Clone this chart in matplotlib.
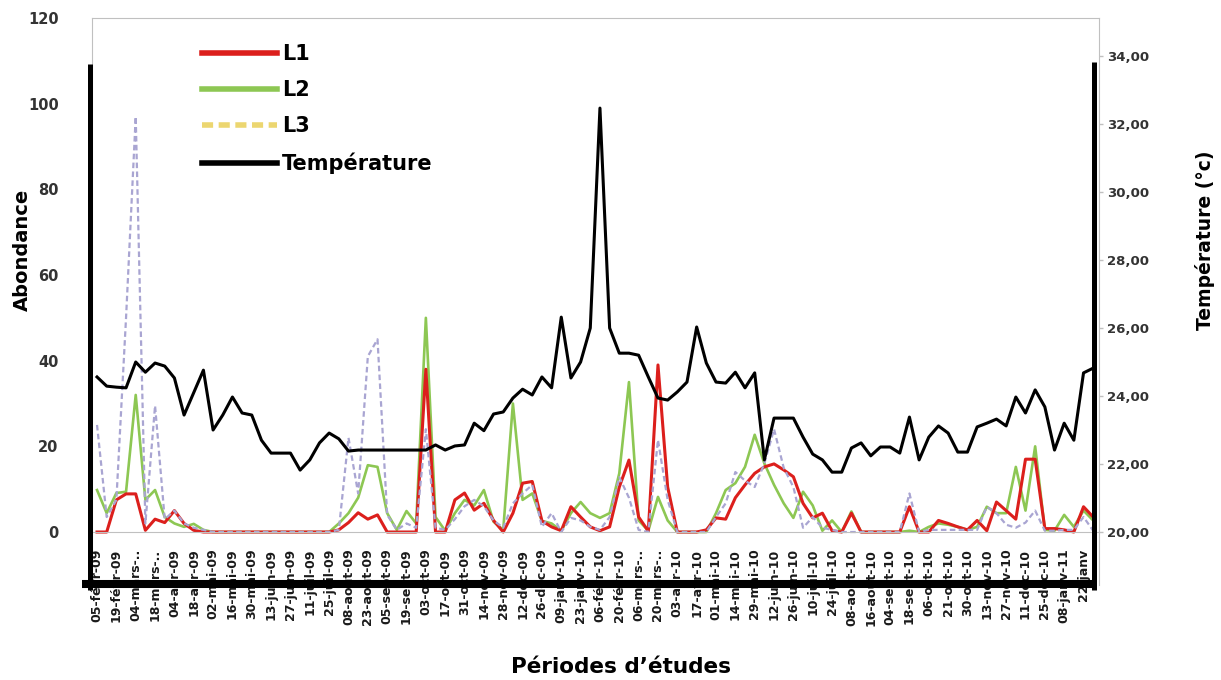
import matplotlib.pyplot as plt
from matplotlib.lines import Line2D
from matplotlib.ticker import FuncFormatter

plt.rcParams['font.family'] = 'DejaVu Sans'
plt.rcParams['font.weight'] = 'bold'

# dates de prélèvement (une étiquette sur deux)
dates = ["05-févr-09", "19-févr-09", "04-mars-..", "18-mars-..", "04-avr-09", "18-avr-09",
         "02-mai-09", "16-mai-09", "30-mai-09", "13-juin-09", "27-juin-09", "11-juil-09",
         "25-juil-09", "08-août-09", "23-août-09", "05-sept-09", "19-sept-09", "03-oct-09",
         "17-oct-09", "31-oct-09", "14-nov-09", "28-nov-09", "12-déc-09", "26-déc-09",
         "09-janv-10", "23-janv-10", "06-févr-10", "20-févr-10", "06-mars-..", "20-mars-..",
         "03-avr-10", "17-avr-10", "01-mai-10", "14-mai-10", "29-mai-10", "12-juin-10",
         "26-juin-10", "10-juil-10", "24-juil-10", "08-août-10", "16-août-10", "04-sept-10",
         "18-sept-10", "06-oct-10", "21-oct-10", "30-oct-10", "13-nov-10", "27-nov-10",
         "11-déc-10", "25-déc-10", "08-janv-11", "22-janv"]

temperature = [24.56, 24.29, 24.26, 24.24, 25.0, 24.7, 24.97, 24.88, 24.53, 23.44,
               24.1, 24.76, 23.0, 23.44, 23.97, 23.5, 23.44, 22.7, 22.32, 22.32,
               22.32, 21.82, 22.12, 22.62, 22.91, 22.74, 22.38, 22.41, 22.41, 22.41,
               22.41, 22.41, 22.41, 22.41, 22.41, 22.56, 22.41, 22.53, 22.56, 23.2,
               22.98, 23.47, 23.53, 23.94, 24.2, 24.03, 24.56, 24.24, 26.32, 24.53,
               25.0, 26.0, 32.47, 26.0, 25.26, 25.26, 25.2, 24.56, 23.94, 23.88,
               24.12, 24.41, 26.03, 24.97, 24.41, 24.38, 24.7, 24.24, 24.68, 22.12,
               23.35, 23.35, 23.35, 22.79, 22.29, 22.12, 21.76, 21.76, 22.47, 22.62,
               22.24, 22.5, 22.5, 22.32, 23.38, 22.12, 22.79, 23.12, 22.91, 22.35,
               22.35, 23.09, 23.2, 23.32, 23.12, 23.97, 23.5, 24.18, 23.68, 22.41,
               23.2, 22.7, 24.68, 24.82]

l1 = [0, 0, 7.5, 8.9, 8.9, 0.4, 3.0, 2.2, 5.0, 2.0,
      0.4, 0, 0, 0, 0, 0, 0, 0, 0, 0,
      0, 0, 0, 0, 0, 0.5, 2.2, 4.5, 3.0, 4.0,
      0, 0, 0, 0, 38, 0, 0, 7.5, 9.1, 5.1,
      6.7, 2.7, 0, 4.4, 11.4, 11.8, 2.6, 1.2, 0.3, 5.9,
      3.5, 1.2, 0.3, 1.2, 10.5, 16.8, 3.5, 0.2, 39, 10.5,
      0, 0, 0, 0.5, 3.3, 3.0, 8, 11, 13.7, 15.2,
      15.9, 14.5, 12.9, 6.7, 3.3, 4.4, 0.3, 0, 4.4, 0,
      0, 0, 0, 0, 5.9, 0, 0, 2.7, 2.0, 1.2,
      0.5, 2.7, 0.3, 7.0, 5.0, 3.0, 17, 17, 0.8, 0.8,
      0.5, 0, 5.9, 3.5]

l2 = [9.8, 4.4, 9.1, 9.4, 32, 7.5, 9.8, 3.5, 2.0, 1.2,
      1.9, 0.5, 0, 0, 0, 0, 0, 0, 0, 0,
      0, 0, 0, 0, 0, 2, 4.4, 8, 15.6, 15.2,
      4.4, 0.5, 4.9, 2, 50, 3.5, 0.3, 4.4, 7.5, 6.2,
      9.8, 2.4, 0.5, 30, 7.5, 9, 2.6, 2, 0.3, 4.4,
      7, 4.4, 3.3, 4.4, 13.7, 35, 2.7, 0.3, 8.2, 2.7,
      0, 0, 0, 0, 4.4, 9.8, 11.4, 15.2, 22.7, 16,
      11, 6.7, 3.3, 9.4, 6.2, 0.3, 2.7, 0, 4.8, 0,
      0, 0, 0, 0, 0.3, 0, 1.2, 2, 1.7, 1.2,
      0.5, 1.2, 5.9, 4.4, 4.4, 15.2, 5, 20, 0.5, 0.3,
      4, 1.2, 5, 2.7]

l3 = [25, 3.5, 7.5, 50, 97, 2, 29.5, 3, 5, 2,
      1, 0.5, 0, 0, 0, 0, 0, 0, 0, 0,
      0, 0, 0, 0, 0, 0.5, 22, 9, 41, 45,
      4, 0.5, 2, 1, 24, 1, 0.5, 3, 6, 7.5,
      6, 2.7, 1, 6.7, 9, 11, 1.2, 4.4, 0, 3.3,
      2.7, 1.2, 0.5, 3.5, 12.8, 8, 0.5, 0, 21.5, 7.5,
      0, 0, 0, 0, 3.5, 6.7, 14, 12, 10.5, 16,
      24, 15, 10.5, 1, 3.5, 1, 0.5, 0, 0, 0,
      0, 0, 0, 0, 9, 0, 0.5, 0.5, 0.5, 0.5,
      0.5, 0.5, 5.9, 4.4, 1.7, 1, 2.2, 5, 0.3, 0.3,
      0.5, 0.5, 3.5, 0.3]

W, H = 1221, 680
fig = plt.figure(figsize=(W / 100, H / 100), dpi=100)
ax = fig.add_axes([92 / W, 1 - 585 / H, (1099 - 92) / W, (585 - 18) / H])
ax2 = ax.twinx()

x = list(range(len(temperature)))
gris = '#c0c0c0'

ax.plot(x, l2, color='#8dc753', lw=1.9)
ax.plot(x, l1, color='#dc1f1c', lw=2.2)
ax.plot(x, l3, color='#a9a5d2', lw=1.6, ls=(0, (2.5, 1.5)))
ax2.plot(x, temperature, color='black', lw=2.2)

ax.set_xlim(-0.52, 103.6)
ax.set_ylim(-12.37, 120)
ax2.set_ylim(18.44, 35.12)

# axe des catégories à y = 0
ax.spines['bottom'].set_position(('data', 0))
ax.spines['bottom'].set_color(gris)
for s in ['top', 'left']:
    ax.spines[s].set_color(gris)
ax.spines['right'].set_visible(False)
for s in ['top', 'left', 'bottom']:
    ax2.spines[s].set_visible(False)
ax2.spines['right'].set_color(gris)

ax.set_xticks(x[::2])
ax.set_xticklabels(dates, rotation=90, fontsize=9, fontweight='bold', va='top')
ax.tick_params(axis='x', length=0, pad=12, colors='#1a1a1a')
ax.set_yticks(range(0, 121, 20))
ax.tick_params(axis='y', length=0, pad=24, labelsize=10.5, labelcolor='#333333')

ax2.set_yticks(range(20, 35, 2))
ax2.yaxis.set_major_formatter(FuncFormatter(lambda v, p: f"{v:.2f}".replace('.', ',')))
ax2.tick_params(axis='y', length=3, width=1, color=gris, pad=3, labelsize=9.5,
                labelcolor='#333333')

fig.text(22 / W, 1 - 250 / H, 'Abondance', rotation=90, ha='center', va='center',
         fontsize=14, fontweight='bold')
fig.text(1205 / W, 1 - 240 / H, 'Température (°c)', rotation=90, ha='center', va='center',
         fontsize=13.5, fontweight='bold')
fig.text(621 / W, 1 - 667 / H, 'Périodes d’études', ha='center', va='center',
         fontsize=15.5, fontweight='bold')

poignees = [Line2D([], [], color='#dc1f1c', lw=4),
            Line2D([], [], color='#8dc753', lw=4),
            Line2D([], [], color='#ecd670', lw=4, ls=(0, (2, 1))),
            Line2D([], [], color='black', lw=4)]
ax.legend(poignees, ['L1', 'L2', 'L3', 'Température'], loc='upper left',
          bbox_to_anchor=(202 / W, 1 - 44 / H), bbox_transform=fig.transFigure,
          frameon=False, prop={'size': 15, 'weight': 'bold'}, handlelength=3.6,
          handletextpad=0.25, labelspacing=0.78, borderpad=0, borderaxespad=0)

# cadre noir épais
def trait(x0, y0, x1, y1, lw):
    fig.add_artist(Line2D([x0 / W, x1 / W], [1 - y0 / H, 1 - y1 / H], color='black',
                          lw=lw, solid_capstyle='butt', zorder=10))

trait(89.5, 64, 89.5, 590, 3.6)
trait(1094, 62, 1094, 590, 3.6)
trait(82, 583.5, 1097, 583.5, 5.8)

fig.savefig('out.png', dpi=100)
